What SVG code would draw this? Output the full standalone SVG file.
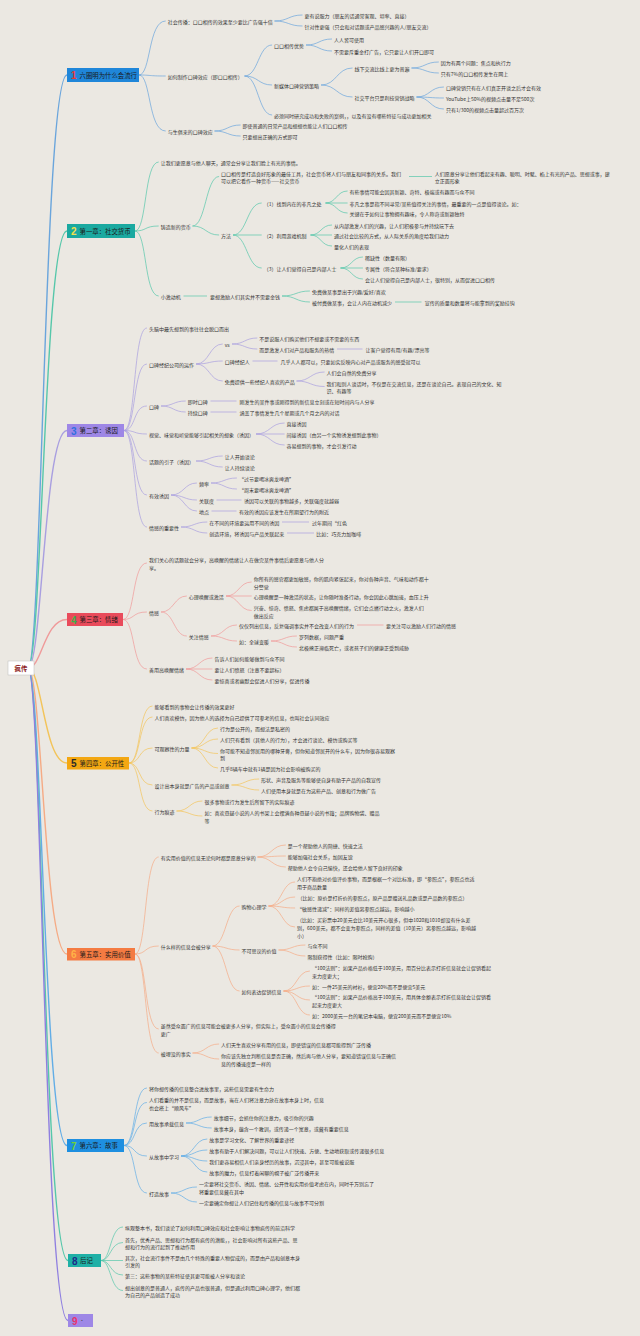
<svg xmlns="http://www.w3.org/2000/svg" width="640" height="1336" viewBox="0 0 640 1336">
<style>
.t{font-family:"Noto Sans CJK SC","Noto Sans",sans-serif;font-size:5px;fill:#333;dominant-baseline:central}
.ct{font-family:"Noto Sans CJK SC","Noto Sans",sans-serif;font-size:6.4px;fill:#1a1a1a;dominant-baseline:central}
.num{font-family:"Liberation Sans",sans-serif;font-size:10px;font-weight:bold;dominant-baseline:central}
.r{fill:none;stroke-width:1.4;stroke-linecap:round}
.l{fill:none;stroke-width:0.7}
.l1{stroke:#6aa5dc}.l2{stroke:#56c7aa}.l3{stroke:#a99fe0}.l4{stroke:#f09a9a}.l5{stroke:#f3c45a}.l6{stroke:#f5ab85}.l7{stroke:#62ade6}.l9{stroke:#8f7fe0}
</style>
<rect width="640" height="1336" fill="#ebe8e2"/>
<g id="connectors">
<path class="r l1" d="M28 668 C42 668,44 75,67 75"/>
<path class="r l2" d="M28 668 C42 668,44 231,67 231"/>
<path class="r l3" d="M28 668 C42 668,44 430.5,67 430.5"/>
<path class="r l4" d="M28 668 C42 668,44 619.5,67 619.5"/>
<path class="r l5" d="M28 668 C42 668,44 763,67 763"/>
<path class="r l6" d="M28 668 C42 668,44 954,67 954"/>
<path class="r l7" d="M28 668 C42 668,44 1145.5,67 1145.5"/>
<path class="r l2" d="M28 668 C42 668,44 1260.5,68 1260.5"/>
<path class="r l9" d="M28 668 C42 668,44 1320.5,68 1320.5"/>
<g class="l l1">
<path d="M139 75 C151 75,148 21,165.7 21"/><path d="M139 75 C151 75,148 76,165.7 76"/><path d="M139 75 C151 75,148 131,165.7 131"/>
<path d="M274.5 21 C288.5 21,288.5 15,302.5 15"/><path d="M274.5 21 C288.5 21,288.5 26,302.5 26"/>
<path d="M244.5 76 C258.3 76,258.3 45,272.1 45"/><path d="M244.5 76 C258.3 76,258.3 85,272.1 85"/><path d="M244.5 76 C258.3 76,258.3 115,272.1 115"/>
<path d="M306 45 C319 45,319 39,332 39"/><path d="M306 45 C319 45,319 51,332 51"/>
<path d="M321 85 C336.7 85,336.7 68,352.5 68"/><path d="M321 85 C336.7 85,336.7 97,352.5 97"/>
<path d="M411.5 68 C425 68,425 62,438.8 62"/><path d="M411.5 68 C425 68,425 73,438.8 73"/>
<path d="M416.5 97 C430 97,430 87,443.9 87"/><path d="M416.5 97 C430 97,430 98,443.9 98"/><path d="M416.5 97 C430 97,430 109,443.9 109"/>
<path d="M214.5 131 C227.5 131,227.5 125,240.6 125"/><path d="M214.5 131 C227.5 131,227.5 136,240.6 136"/>
</g>
<g class="l l2">
<path d="M135 231 C147 231,144 162,158.7 162"/><path d="M135 231 C147 231,144 226,158.7 226"/><path d="M135 231 C147 231,144 296,158.7 296"/>
<path d="M192.5 226 C205.8 226,205.8 176.5,219.1 176.5"/><path d="M192.5 226 C205.8 226,205.8 235,219.1 235"/>
<path d="M409 176.5 L432 176.5"/>
<path d="M233 235 C247 235,247 203,261.7 203"/><path d="M233 235 L261.7 235"/><path d="M233 235 C247 235,247 268,261.7 268"/>
<path d="M325.5 203 C336.5 203,336.5 191,347.6 191"/><path d="M325.5 203 L347.6 203"/><path d="M325.5 203 C336.5 203,336.5 213,347.6 213"/>
<path d="M310.5 235 C321 235,321 225,332 225"/><path d="M310.5 235 L332 235"/><path d="M310.5 235 C321 235,321 246,332 246"/>
<path d="M340.5 268 C351.7 268,351.7 257,362.9 257"/><path d="M340.5 268 L362.9 268"/><path d="M340.5 268 C351.7 268,351.7 279,362.9 279"/>
<path d="M183.5 296 L207 296"/>
<path d="M282 296 C296 296,296 291,309.9 291"/><path d="M282 296 C296 296,296 302,309.9 302"/>
<path d="M395 302 L421.5 302"/>
<path d="M101 1260.5 C111 1260.5,110 1227,123 1227"/><path d="M101 1260.5 C111 1260.5,110 1242.5,123 1242.5"/><path d="M101 1260.5 L123 1260.5"/><path d="M101 1260.5 C111 1260.5,110 1275,123 1275"/><path d="M101 1260.5 C111 1260.5,110 1290.5,123 1290.5"/>
</g>
<g class="l l3">
<path d="M124 430.5 C136 430.5,133 328,146.9 328"/><path d="M124 430.5 C136 430.5,133 364,146.9 364"/><path d="M124 430.5 C136 430.5,133 406,146.9 406"/><path d="M124 430.5 C136 430.5,133 434,146.9 434"/><path d="M124 430.5 C136 430.5,133 461,146.9 461"/><path d="M124 430.5 C136 430.5,133 495,146.9 495"/><path d="M124 430.5 C136 430.5,133 527,146.9 527"/>
<path d="M196 364 C209.4 364,209.4 344,222.7 344"/><path d="M196 364 C209.4 364,209.4 361,222.7 361"/><path d="M196 364 C209.4 364,209.4 381,222.7 381"/>
<path d="M232 344 C244.7 344,244.7 338,257.3 338"/><path d="M232 344 C244.7 344,244.7 349,257.3 349"/>
<path d="M337 349 L362.5 349"/><path d="M252.5 361 L277.5 361"/>
<path d="M296.5 381 C310.5 381,310.5 372,324.6 372"/><path d="M296.5 381 C310.5 381,310.5 386.5,324.6 386.5"/>
<path d="M161 406 C173.4 406,173.4 401,185.7 401"/><path d="M161 406 C173.4 406,173.4 412,185.7 412"/>
<path d="M210.5 401 L236.5 401"/><path d="M210.5 412 L236.5 412"/>
<path d="M256 434 C270.3 434,270.3 423,284.6 423"/><path d="M256 434 L284.6 434"/><path d="M256 434 C270.3 434,270.3 445,284.6 445"/>
<path d="M196 461 C209.4 461,209.4 456,222.7 456"/><path d="M196 461 C209.4 461,209.4 467,222.7 467"/>
<path d="M171 495 C184 495,184 483,196.9 483"/><path d="M171 495 C184 495,184 500,196.9 500"/><path d="M171 495 C184 495,184 511,196.9 511"/>
<path d="M211 483 C224 483,224 478,236.9 478"/><path d="M211 483 C224 483,224 489,236.9 489"/>
<path d="M216.5 500 L241.5 500"/><path d="M211.5 511 L236.5 511"/>
<path d="M181 527 C194.2 527,194.2 522,207.3 522"/><path d="M181 527 C194.2 527,194.2 533,207.3 533"/>
<path d="M282 522 L309 522"/><path d="M287 533 L314 533"/>
</g>
<g class="l l4">
<path d="M123 619.5 C135 619.5,132 563,146.9 563"/><path d="M123 619.5 C135 619.5,132 612,146.9 612"/><path d="M123 619.5 C135 619.5,132 669,146.9 669"/>
<path d="M161 612 C174 612,174 596,186.8 596"/><path d="M161 612 C174 612,174 636,186.8 636"/>
<path d="M226 596 C238.8 596,238.8 582,251.7 582"/><path d="M226 596 L251.7 596"/><path d="M226 596 C238.8 596,238.8 610.5,251.7 610.5"/>
<path d="M211 636 C224 636,224 625,236.9 625"/><path d="M211 636 C224 636,224 641,236.9 641"/>
<path d="M357 625 L383.5 625"/>
<path d="M271 641 C284 641,284 636,296.9 636"/><path d="M271 641 C284 641,284 647,296.9 647"/>
<path d="M186 669 C199.2 669,199.2 658,212.4 658"/><path d="M186 669 L212.4 669"/><path d="M186 669 C199.2 669,199.2 680,212.4 680"/>
</g>
<g class="l l5">
<path d="M129 763 C141 763,138 706,152.5 706"/><path d="M129 763 C141 763,138 717,152.5 717"/><path d="M129 763 C141 763,138 748,152.5 748"/><path d="M129 763 C141 763,138 785,152.5 785"/><path d="M129 763 C141 763,138 811,152.5 811"/>
<path d="M191.5 748 C204.7 748,204.7 728,218 728"/><path d="M191.5 748 C204.7 748,204.7 739,218 739"/><path d="M191.5 748 C204.7 748,204.7 753.5,218 753.5"/><path d="M191.5 748 C204.7 748,204.7 768,218 768"/>
<path d="M231.5 785 C245.3 785,245.3 779,259.1 779"/><path d="M231.5 785 C245.3 785,245.3 790,259.1 790"/>
<path d="M176.5 811 C189.5 811,189.5 801,202.4 801"/><path d="M176.5 811 C189.5 811,189.5 816,202.4 816"/>
</g>
<g class="l l6">
<path d="M135 954 C147 954,144 857,158.7 857"/><path d="M135 954 C147 954,144 946,158.7 946"/><path d="M135 954 C147 954,144 1029,158.7 1029"/><path d="M135 954 C147 954,144 1053,158.7 1053"/>
<path d="M257.5 857 C271.6 857,271.6 845,285.8 845"/><path d="M257.5 857 C271.6 857,271.6 856,285.8 856"/><path d="M257.5 857 C271.6 857,271.6 867,285.8 867"/>
<path d="M212.5 946 C226 946,226 906,239.6 906"/><path d="M212.5 946 C226 946,226 950,239.6 950"/><path d="M212.5 946 C226 946,226 991,239.6 991"/>
<path d="M268.5 906 C281.8 906,281.8 882,295.1 882"/><path d="M268.5 906 C281.8 906,281.8 897,295.1 897"/><path d="M268.5 906 C281.8 906,281.8 908,295.1 908"/><path d="M268.5 906 C281.8 906,281.8 927,295.1 927"/>
<path d="M278.5 950 C292 950,292 945,305.4 945"/><path d="M278.5 950 C292 950,292 956,305.4 956"/>
<path d="M283.5 991 C296.7 991,296.7 971,309.9 971"/><path d="M283.5 991 C296.7 991,296.7 986,309.9 986"/><path d="M283.5 991 C296.7 991,296.7 1000,309.9 1000"/><path d="M283.5 991 C296.7 991,296.7 1015,309.9 1015"/>
<path d="M192.5 1053 C205.8 1053,205.8 1044,219.1 1044"/><path d="M192.5 1053 C205.8 1053,205.8 1059,219.1 1059"/>
</g>
<g class="l l7">
<path d="M124 1145.5 C136 1145.5,133 1088,146.9 1088"/><path d="M124 1145.5 C136 1145.5,133 1102.5,146.9 1102.5"/><path d="M124 1145.5 C136 1145.5,133 1123,146.9 1123"/><path d="M124 1145.5 C136 1145.5,133 1156,146.9 1156"/><path d="M124 1145.5 C136 1145.5,133 1193,146.9 1193"/>
<path d="M186 1123 C198.8 1123,198.8 1117,211.7 1117"/><path d="M186 1123 C198.8 1123,198.8 1128,211.7 1128"/>
<path d="M181 1156 C194.2 1156,194.2 1139,207.3 1139"/><path d="M181 1156 C194.2 1156,194.2 1150,207.3 1150"/><path d="M181 1156 C194.2 1156,194.2 1161,207.3 1161"/><path d="M181 1156 C194.2 1156,194.2 1172,207.3 1172"/>
<path d="M171 1193 C184 1193,184 1187,196.9 1187"/><path d="M171 1193 C184 1193,184 1202,196.9 1202"/>
</g>
</g>
<g id="root"><rect x="8" y="661" width="26" height="14" fill="#ffffff" stroke="#bbbbbb" stroke-width="0.5"/><text x="21" y="668" class="ct" text-anchor="middle" style="font-weight:bold;fill:#8b1a1a">疯传</text></g>
<g id="ch1"><rect x="67" y="68" width="72" height="14" fill="#1f86d9"/><text x="71" y="75.5" class="num" fill="#e53935">1</text><text x="79.5" y="75" class="ct">六圈明为什么会流行</text></g>
<g id="ch2"><rect x="67" y="224" width="68" height="14" fill="#1aa9a0"/><text x="71" y="231.5" class="num" fill="#f4e04d">2</text><text x="79.5" y="231" class="ct">第一章：社交货币</text></g>
<g id="ch3"><rect x="67" y="424" width="57" height="13" fill="#9e87e6"/><text x="71" y="431" class="num" fill="#2f6fe0">3</text><text x="79.5" y="430.5" class="ct">第二章：诱因</text></g>
<g id="ch4"><rect x="67" y="613" width="56" height="13" fill="#e94b5b"/><text x="71" y="620" class="num" fill="#3fae49">4</text><text x="79.5" y="619.5" class="ct">第三章：情绪</text></g>
<g id="ch5"><rect x="67" y="757" width="62" height="12.5" fill="#f3a712"/><text x="71" y="763.5" class="num" fill="#2b2b2b">5</text><text x="79.5" y="763" class="ct">第四章：公开性</text></g>
<g id="ch6"><rect x="67" y="948" width="68" height="12.5" fill="#f47b42"/><text x="71" y="954.5" class="num" fill="#ffb347">6</text><text x="79.5" y="954" class="ct">第五章：实用价值</text></g>
<g id="ch7"><rect x="67" y="1139" width="57" height="13" fill="#1e8fe0"/><text x="71" y="1146" class="num" fill="#6fd13a">7</text><text x="79.5" y="1145.5" class="ct">第六章：故事</text></g>
<g id="ch8"><rect x="68" y="1254" width="33" height="13" fill="#1fb0a6"/><text x="72" y="1261" class="num" fill="#1a2a8a">8</text><text x="80" y="1260.5" class="ct">后记</text></g>
<g id="ch9"><rect x="68" y="1314" width="25" height="13" fill="#9e87e6"/><text x="72" y="1321" class="num" fill="#e8336b">9</text><text x="81" y="1320.5" class="t" style="font-size:4px">*</text></g>
<g id="n1-1"><text class="t" x="167.7" y="21">社会传播：口口相传的效果至少要比广告强十倍</text></g>
<g id="n1-1-1"><text class="t" x="304.5" y="15">更有说服力（朋友的话通常客观、坦率、直接）</text></g>
<g id="n1-1-2"><text class="t" x="304.5" y="26">针对性更强（只会和对话题或产品感兴趣的人/朋友交流）</text></g>
<g id="n1-2"><text class="t" x="167.7" y="76">如何制作口碑效应（即口口相传）</text></g>
<g id="n1-2-1"><text class="t" x="274.1" y="45">口口相传优势</text></g>
<g id="n1-2-1-1"><text class="t" x="334" y="39">人人皆可使用</text></g>
<g id="n1-2-1-2"><text class="t" x="334" y="51">不需要斥重金打广告，它只要让人们开口即可</text></g>
<g id="n1-2-2"><text class="t" x="274.1" y="85">新媒体口碑营销策略</text></g>
<g id="n1-2-2-1"><text class="t" x="354.5" y="68">线下交流比线上更为普遍</text></g>
<g id="n1-2-2-1-1"><text class="t" x="440.8" y="62">因为有两个问题：焦点和执行力</text></g>
<g id="n1-2-2-1-2"><text class="t" x="440.8" y="73">只有7%的口口相传发生在网上</text></g>
<g id="n1-2-2-2"><text class="t" x="354.5" y="97">社交平台只是利技营销战略</text></g>
<g id="n1-2-2-2-1"><text class="t" x="445.9" y="87">口碑营销只有在人们真正开谈之后才会有效</text></g>
<g id="n1-2-2-2-2"><text class="t" x="445.9" y="98">YouTube上50%的视频点击量不足500次</text></g>
<g id="n1-2-2-2-3"><text class="t" x="445.9" y="109">只有1/300的视频点击量超过百万次</text></g>
<g id="n1-2-3"><text class="t" x="274.1" y="115">必须同时研究成功和失败的案例，，以及有没有哪些特征与成功更加相关</text></g>
<g id="n1-3"><text class="t" x="167.7" y="131">与生俱来的口碑效应</text></g>
<g id="n1-3-1"><text class="t" x="242.6" y="125">即使普通的日常产品和想想也能让人们口口相传</text></g>
<g id="n1-3-2"><text class="t" x="242.6" y="136">只要想出正确的方式即可</text></g>
<g id="n2-1"><text class="t" x="160.7" y="162">让我们更愿意与他人聊天，通常会分享让我们脸上有光的事情。</text></g>
<g id="n2-2"><text class="t" x="160.7" y="226">铸造新的货币</text></g>
<g id="n2-2-1"><text class="t" x="221.1" y="173">口口相传是打造良好形象的最佳工具，社会货币将人们与朋友和同事的关系。我们<tspan x="221.1" dy="7.3">可以把它看作一种货币——社交货币</tspan></text></g>
<g id="n2-2-1-1"><text class="t" x="434.7" y="173">人们愿意分享让他们看起来有趣、聪明、时髦、掐上有光的产品、思想或事，建<tspan x="434.7" dy="7.3">立正面形象</tspan></text></g>
<g id="n2-2-2"><text class="t" x="221.1" y="235">方法</text></g>
<g id="n2-2-2-1"><text class="t" x="263.7" y="203">（1）找到内在的非凡之处</text></g>
<g id="n2-2-2-1-1"><text class="t" x="349.6" y="191">有些事情可能会因其新颖、奇特、极端或有趣而与众不同</text></g>
<g id="n2-2-2-1-2"><text class="t" x="349.6" y="203">非凡之事是指不同寻常/某些值得关注的事情，最重要的一点是值得谈论。如：</text></g>
<g id="n2-2-2-1-3"><text class="t" x="349.6" y="213">关键在于如何让事物拥有趣味，令人称奇或新颖独特</text></g>
<g id="n2-2-2-2"><text class="t" x="263.7" y="235">（2）利用游戏机制</text></g>
<g id="n2-2-2-2-1"><text class="t" x="334" y="225">从内部激发人们的兴趣，让人们积极参与并持续玩下去</text></g>
<g id="n2-2-2-2-2"><text class="t" x="334" y="235">通过社会比较的方式，从人际关系的角度给我们动力</text></g>
<g id="n2-2-2-2-3"><text class="t" x="334" y="246">量化人们的表现</text></g>
<g id="n2-2-2-3"><text class="t" x="263.7" y="268">（3）让人们觉得自己是内部人士</text></g>
<g id="n2-2-2-3-1"><text class="t" x="364.9" y="257">稀缺性（数量有限）</text></g>
<g id="n2-2-2-3-2"><text class="t" x="364.9" y="268">专属性（符合某种标准/要求）</text></g>
<g id="n2-2-2-3-3"><text class="t" x="364.9" y="279">会让人们觉得自己是内部人士，很特别，从而促进口口相传</text></g>
<g id="n2-3"><text class="t" x="160.7" y="296">小激动机</text></g>
<g id="n2-3-1"><text class="t" x="209.9" y="296">要想激励人们其实并不需要金钱</text></g>
<g id="n2-3-1-1"><text class="t" x="311.9" y="291">免费做某事是出于兴趣/爱好/喜欢</text></g>
<g id="n2-3-1-2"><text class="t" x="311.9" y="302">被付费做某事，会让人内在动机减少</text></g>
<g id="n2-3-1-2-1"><text class="t" x="424.8" y="302">宣传的质量和数量将与能拿到的奖励挂钩</text></g>
<g id="n3-1"><text class="t" x="148.9" y="328">头脑中最先想到的事往往会脱口而出</text></g>
<g id="n3-2"><text class="t" x="148.9" y="364">口碑经纪公司的运作</text></g>
<g id="n3-2-1"><text class="t" x="224.7" y="344">vs</text></g>
<g id="n3-2-1-1"><text class="t" x="259.3" y="338">不是说服人们购买他们不想要或不需要的东西</text></g>
<g id="n3-2-1-2"><text class="t" x="259.3" y="349">而是激发人们对产品和服务的热情</text></g>
<g id="n3-2-1-2-1"><text class="t" x="365.6" y="349">让客户觉得有用/有趣/漂亮等</text></g>
<g id="n3-2-2"><text class="t" x="224.7" y="361">口碑经纪人</text></g>
<g id="n3-2-2-1"><text class="t" x="280.4" y="361">几乎人人都可以，只要如实反映内心对产品或服务的感受就可以</text></g>
<g id="n3-2-3"><text class="t" x="224.7" y="381">免费提供一些经纪人喜欢的产品</text></g>
<g id="n3-2-3-1"><text class="t" x="326.6" y="372">人们会自然的免费分享</text></g>
<g id="n3-2-3-2"><text class="t" x="326.6" y="383">我们和别人谈话时，不仅是在交流信息，还是在谈论自己。表现自己的文化、知<tspan x="326.6" dy="7.3">识、有趣等</tspan></text></g>
<g id="n3-3"><text class="t" x="148.9" y="406">口碑</text></g>
<g id="n3-3-1"><text class="t" x="187.7" y="401">即时口碑</text></g>
<g id="n3-3-1-1"><text class="t" x="239.5" y="401">刚发生的某件事或刚得到的新信息立刻或在短时间内与人分享</text></g>
<g id="n3-3-2"><text class="t" x="187.7" y="412">持续口碑</text></g>
<g id="n3-3-2-1"><text class="t" x="239.5" y="412">涵盖了事情发生几个星期或几个月之内的对话</text></g>
<g id="n3-4"><text class="t" x="148.9" y="434">视觉、味觉和听觉能够引起相关的想象（诱因）</text></g>
<g id="n3-4-1"><text class="t" x="286.6" y="423">直接诱因</text></g>
<g id="n3-4-2"><text class="t" x="286.6" y="434">间接诱因（由另一个实物诱发想到此事物）</text></g>
<g id="n3-4-3"><text class="t" x="286.6" y="445">容易想到的事物，才会引发行动</text></g>
<g id="n3-5"><text class="t" x="148.9" y="461">话题的引子（诱因）</text></g>
<g id="n3-5-1"><text class="t" x="224.7" y="456">让人开始谈论</text></g>
<g id="n3-5-2"><text class="t" x="224.7" y="467">让人持续谈论</text></g>
<g id="n3-6"><text class="t" x="148.9" y="495">有效诱因</text></g>
<g id="n3-6-1"><text class="t" x="198.9" y="483">频率</text></g>
<g id="n3-6-1-1"><text class="t" x="238.9" y="478">“过节要喝冰爽龙啤酒”</text></g>
<g id="n3-6-1-2"><text class="t" x="238.9" y="489">“周末要喝冰爽龙啤酒”</text></g>
<g id="n3-6-2"><text class="t" x="198.9" y="500">关联度</text></g>
<g id="n3-6-2-1"><text class="t" x="244.1" y="500">诱因可以关联的事物越多，关联强度就越弱</text></g>
<g id="n3-6-3"><text class="t" x="198.9" y="511">地点</text></g>
<g id="n3-6-3-1"><text class="t" x="238.9" y="511">有效的诱因应该发生在所期望行为的附近</text></g>
<g id="n3-7"><text class="t" x="148.9" y="527">情感的重要性</text></g>
<g id="n3-7-1"><text class="t" x="209.3" y="522">在不同的环境要运用不同的诱因</text></g>
<g id="n3-7-1-1"><text class="t" x="311.9" y="522">过年期间“红色</text></g>
<g id="n3-7-2"><text class="t" x="209.3" y="533">创造环境，将诱因与产品关联起来</text></g>
<g id="n3-7-2-1"><text class="t" x="316.3" y="533">比如：巧克力加咖啡</text></g>
<g id="n4-1"><text class="t" x="148.9" y="559">我们关心的话题就会分享，高唤醒的情绪让人在做完某件事情后更愿意与他人分<tspan x="148.9" dy="7.5">享。</tspan></text></g>
<g id="n4-2"><text class="t" x="148.9" y="612">情感</text></g>
<g id="n4-2-1"><text class="t" x="188.8" y="596">心理唤醒或激活</text></g>
<g id="n4-2-1-1"><text class="t" x="253.7" y="578">你所有的感官都更加敏感，你的肌肉紧张起来，你对各种声音、气味和动作都十<tspan x="253.7" dy="7.5">分警觉</tspan></text></g>
<g id="n4-2-1-2"><text class="t" x="253.7" y="596">心理唤醒是一种激活的状态，让你随时准备行动，你会因此心跳加速，血压上升</text></g>
<g id="n4-2-1-3"><text class="t" x="253.7" y="607">兴奋、惊奇、愤怒、焦虑都属于高唤醒情绪，它们会点燃行动之火，激发人们<tspan x="253.7" dy="7.5">做出反应</tspan></text></g>
<g id="n4-2-2"><text class="t" x="188.8" y="636">关注情感</text></g>
<g id="n4-2-2-1"><text class="t" x="238.9" y="625">仅仅列出信息，反复强调事实并不会改变人们的行为</text></g>
<g id="n4-2-2-1-1"><text class="t" x="386" y="625">要关注可以激励人们行动的情感</text></g>
<g id="n4-2-2-2"><text class="t" x="238.9" y="641">如：全球变暖</text></g>
<g id="n4-2-2-2-1"><text class="t" x="298.9" y="636">罗列数据，问题严重</text></g>
<g id="n4-2-2-2-2"><text class="t" x="298.9" y="647">北极熊正濒临死亡，或者孩子们的健康正受到威胁</text></g>
<g id="n4-3"><text class="t" x="148.9" y="669">善用高唤醒情绪</text></g>
<g id="n4-3-1"><text class="t" x="214.4" y="658">告诉人们如何能够做到与众不同</text></g>
<g id="n4-3-2"><text class="t" x="214.4" y="669">要让人们愤怒（注意不要超标）</text></g>
<g id="n4-3-3"><text class="t" x="214.4" y="680">要惊喜或者幽默会促进人们分享，促进传播</text></g>
<g id="n5-1"><text class="t" x="154.5" y="706">能够看到的事物会让传播的效果更好</text></g>
<g id="n5-2"><text class="t" x="154.5" y="717">人们喜欢模仿，因为他人的选择为自己提供了可参考的信息，也叫社会认同效应</text></g>
<g id="n5-3"><text class="t" x="154.5" y="748">可观察性的力量</text></g>
<g id="n5-3-1"><text class="t" x="220" y="728">行为是公开的，而想法是私密的</text></g>
<g id="n5-3-2"><text class="t" x="220" y="739">人们只有看到（其他人的行为），才会进行谈论、模仿或购买等</text></g>
<g id="n5-3-3"><text class="t" x="220" y="750">你可能不知道邻居用的哪种牙膏，但你知道邻居开的什么车，因为你很容易观察<tspan x="220" dy="7.3">到</tspan></text></g>
<g id="n5-3-4"><text class="t" x="220" y="768">几乎8辆车中就有1辆是因为社会影响被购买的</text></g>
<g id="n5-4"><text class="t" x="154.5" y="785">设计出本身就是广告的产品或创意</text></g>
<g id="n5-4-1"><text class="t" x="261.1" y="779">形状、声音及服务等能够使自身有助于产品的自我宣传</text></g>
<g id="n5-4-2"><text class="t" x="261.1" y="790">人们使用本身就是在为这些产品、创意和行为做广告</text></g>
<g id="n5-5"><text class="t" x="154.5" y="811">行为痕迹</text></g>
<g id="n5-5-1"><text class="t" x="204.4" y="801">很多事物或行为发生后所留下的实际痕迹</text></g>
<g id="n5-5-2"><text class="t" x="204.4" y="812">如：喜欢悬疑小说的人的书架上会摆满各种悬疑小说的书籍；品牌购物袋、赠品<tspan x="204.4" dy="7.5">等</tspan></text></g>
<g id="n6-1"><text class="t" x="160.7" y="857">有实用价值的信息无论何时都是愿意分享的</text></g>
<g id="n6-1-1"><text class="t" x="287.8" y="845">是一个帮助他人的简捷、快速之法</text></g>
<g id="n6-1-2"><text class="t" x="287.8" y="856">能够加强社会关系，加固友谊</text></g>
<g id="n6-1-3"><text class="t" x="287.8" y="867">帮助他人会令自己愉快，还会给他人留下良好的印象</text></g>
<g id="n6-2"><text class="t" x="160.7" y="946">什么样的信息会被分享</text></g>
<g id="n6-2-1"><text class="t" x="241.6" y="906">购物心理学</text></g>
<g id="n6-2-1-1"><text class="t" x="297.1" y="878">人们不抱绝对价值评价事物，而是根据一个对比标准，即“参照点”，参照点也适<tspan x="297.1" dy="7.5">用于商品数量</tspan></text></g>
<g id="n6-2-1-2"><text class="t" x="297.5" y="897">（比如：原价是打折价的参照点，原产品是赠送礼品数或是产品数的参照点）</text></g>
<g id="n6-2-1-3"><text class="t" x="297.1" y="908">“敏感性递减”：同样的差值离参照点越远，影响越小</text></g>
<g id="n6-2-1-4"><text class="t" x="297.1" y="919">（比如：买彩票中20美元会比10美元开心很多，但中1020和1010却没有什么差<tspan x="297.1" dy="7.8">别，600美元，都不会变为参照点，同样的差值（10美元）离参照点越远，影响越</tspan><tspan x="297.1" dy="7.8">小）</tspan></text></g>
<g id="n6-2-2"><text class="t" x="241.6" y="950">不可思议的价值</text></g>
<g id="n6-2-2-1"><text class="t" x="307.4" y="945">与众不同</text></g>
<g id="n6-2-2-2"><text class="t" x="307.4" y="956">限制获得性（比如：限时抢购）</text></g>
<g id="n6-2-3"><text class="t" x="241.6" y="991">如何表达促销信息</text></g>
<g id="n6-2-3-1"><text class="t" x="311.9" y="967">“100法则”：如果产品价格低于100美元，用百分比表示打折信息就会让促销看起<tspan x="311.9" dy="7.5">来力度更大；</tspan></text></g>
<g id="n6-2-3-2"><text class="t" x="311.9" y="986">如：一件25美元的衬衫，便宜20%而不是便宜5美元</text></g>
<g id="n6-2-3-3"><text class="t" x="311.9" y="996">“100法则”：如果产品价格高于100美元，用具体金额表示打折信息就会让促销看<tspan x="311.9" dy="7.5">起来力度更大</tspan></text></g>
<g id="n6-2-3-4"><text class="t" x="311.9" y="1015">如：2000美元一台的笔记本电脑，便宜200美元而不是便宜10%</text></g>
<g id="n6-3"><text class="t" x="160.7" y="1025">虽然受众面广的信息可能会被更多人分享，但实际上，受众面小的信息会传播得<tspan x="160.7" dy="7.5">更广</tspan></text></g>
<g id="n6-4"><text class="t" x="160.7" y="1053">被埋没的事实</text></g>
<g id="n6-4-1"><text class="t" x="221.1" y="1044">人们天生喜欢分享有用的信息，即使错误的信息都可能得到广泛传播</text></g>
<g id="n6-4-2"><text class="t" x="221.1" y="1055">你应该先独立判断信息是否正确，然后再与他人分享，要知道错误信息与正确信<tspan x="221.1" dy="7.5">息的传播速度是一样的</tspan></text></g>
<g id="n7-1"><text class="t" x="148.9" y="1088">将你想传播的信息整合进故事里，这些信息需要有生命力</text></g>
<g id="n7-2"><text class="t" x="148.9" y="1099">人们看重的并不是信息，而是故事，当在人们将注意力放在故事本身上时，信息<tspan x="148.9" dy="7.5">也会搭上“顺风车”</tspan></text></g>
<g id="n7-3"><text class="t" x="148.9" y="1123">用故事承载信息</text></g>
<g id="n7-3-1"><text class="t" x="213.7" y="1117">故事细节，会抓住你的注意力，吸引你的兴趣</text></g>
<g id="n7-3-2"><text class="t" x="213.7" y="1128">故事本身，蕴含一个教训，或传递一个寓意，或藏有重要信息</text></g>
<g id="n7-4"><text class="t" x="148.9" y="1156">从故事中学习</text></g>
<g id="n7-4-1"><text class="t" x="209.3" y="1139">故事是学习文化、了解世界的重要途径</text></g>
<g id="n7-4-2"><text class="t" x="209.3" y="1150">故事有助于人们解决问题，可以让人们快速、方便、生动地获取或传递很多信息</text></g>
<g id="n7-4-3"><text class="t" x="209.3" y="1161">我们更容易相信人们亲身经历的故事，沉浸其中，甚至可能被说服</text></g>
<g id="n7-4-4"><text class="t" x="209.3" y="1172">故事的魔力，信息打着闲聊的幌子被广泛传播开来</text></g>
<g id="n7-5"><text class="t" x="148.9" y="1193">打造故事</text></g>
<g id="n7-5-1"><text class="t" x="198.9" y="1183">一定要将社交货币、诱因、情绪、公开性和实用价值考虑在内，同时千万别忘了<tspan x="198.9" dy="7.5">将重要信息藏在其中</tspan></text></g>
<g id="n7-5-2"><text class="t" x="198.9" y="1202">一定要确定你想让人们记住和传播的信息与故事不可分割</text></g>
<g id="n8-1"><text class="t" x="125" y="1227">纵观整本书，我们谈论了如何利用口碑效应和社会影响让事物疯传的前沿科学</text></g>
<g id="n8-2"><text class="t" x="125" y="1239">首先，优秀产品、思想和行为都有疯传的潜能，，社会影响对所有这些产品、思<tspan x="125" dy="7.3">想和行为的流行起到了推动作用</tspan></text></g>
<g id="n8-3"><text class="t" x="125" y="1257">其次，社会流行事件不是由几个特殊的重要人物促成的，而是由产品和创意本身<tspan x="125" dy="7.3">引发的</tspan></text></g>
<g id="n8-4"><text class="t" x="125" y="1275">第三：这些事物的某些特征使其更可能被人分享和谈论</text></g>
<g id="n8-5"><text class="t" x="125" y="1287">想出创意的是普通人，疯传的产品也很普通，但是通过利用口碑心理学，他们都<tspan x="125" dy="7.3">为自己的产品创造了成功</tspan></text></g>
</svg>
